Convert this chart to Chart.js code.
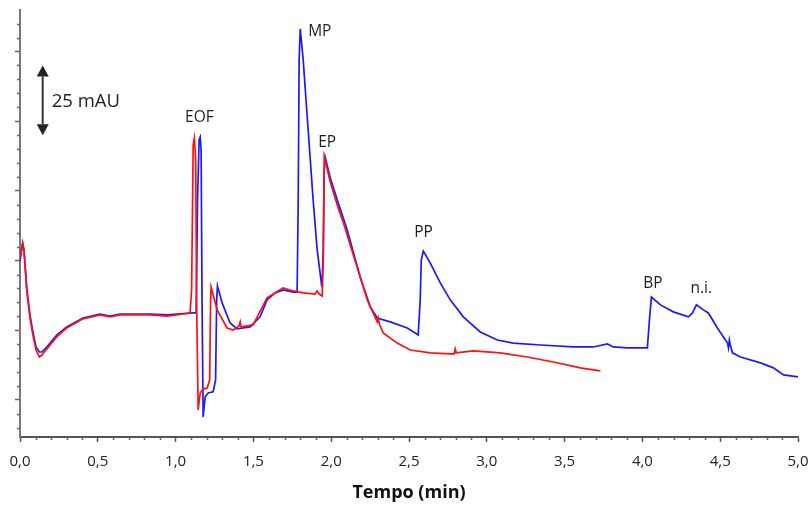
<!DOCTYPE html>
<html lang="pt">
<head>
<meta charset="UTF-8">
<title>Eletroferograma</title>
<script src="https://cdn.jsdelivr.net/npm/chart.js@4.4.1/dist/chart.umd.min.js"></script>
<style>
    body { margin: 0; background: #fff; }
    #wrap { width: 809px; height: 506px; }
</style>
</head>
<body>
<div id="wrap"><canvas id="eletroChart" width="809" height="506"></canvas></div>
<script>
// tempo (min) e absorvância (mAU)
const blueTime = [0.000, 0.017, 0.026, 0.043, 0.064, 0.084, 0.103, 0.124, 0.141, 0.172, 0.236, 0.300, 0.405, 0.514, 0.579, 0.643, 0.836, 0.945, 1.113, 1.132,
    1.141, 1.151, 1.158, 1.164, 1.170, 1.177, 1.190, 1.209, 1.241, 1.257, 1.264, 1.269, 1.299, 1.350, 1.395, 1.479, 1.543, 1.588, 1.640, 1.691,
    1.756, 1.781, 1.788, 1.794, 1.801, 1.820, 1.846, 1.884, 1.910, 1.940, 1.949, 1.955, 1.961, 1.994, 2.045, 2.103, 2.186, 2.251, 2.296, 2.379,
    2.489, 2.559, 2.572, 2.579, 2.592, 2.637, 2.701, 2.765, 2.849, 2.958, 3.068, 3.170, 3.344, 3.556, 3.685, 3.775, 3.814, 3.904, 4.032, 4.045,
    4.058, 4.116, 4.199, 4.296, 4.322, 4.347, 4.392, 4.424, 4.482, 4.547, 4.553, 4.559, 4.566, 4.579, 4.630, 4.759, 4.842, 4.907, 5.000];
const blueAbs = [49.9, 56.3, 53.8, 40.5, 30.5, 24.0, 19.0, 17.2, 17.2, 19.0, 23.3, 26.2, 29.4, 30.8, 30.1, 30.8, 30.8, 30.5, 31.2, 31.2,
    71.7, 93.3, 94.3, 89.7, 35.9, -6.1, 1.1, 2.5, 2.9, 7.2, 35.9, 40.9, 34.8, 27.6, 25.5, 26.2, 29.8, 35.9, 38.4, 39.5,
    38.7, 38.7, 71.7, 122.0, 133.1, 122.0, 101.5, 71.7, 53.8, 40.5, 53.8, 82.5, 87.2, 79.6, 70.7, 61.0, 44.1, 33.4, 29.4, 28.0,
    25.8, 23.3, 35.9, 50.2, 53.4, 49.1, 42.0, 35.9, 29.8, 24.4, 21.5, 20.4, 19.7, 19.0, 19.0, 20.1, 19.0, 18.7, 18.7, 28.7,
    36.9, 34.1, 31.6, 29.8, 31.2, 34.1, 32.3, 31.2, 25.8, 20.4, 18.7, 21.5, 19.4, 16.9, 15.4, 13.3, 11.5, 9.0, 8.3];

const redTime = [0.000, 0.017, 0.026, 0.043, 0.064, 0.084, 0.103, 0.124, 0.141, 0.172, 0.236, 0.300, 0.405, 0.514, 0.579, 0.643, 0.836, 0.945, 1.093, 1.103,
    1.113, 1.121, 1.129, 1.135, 1.145, 1.158, 1.177, 1.203, 1.219, 1.225, 1.228, 1.267, 1.331, 1.370, 1.408, 1.415, 1.421, 1.498, 1.588, 1.691,
    1.756, 1.820, 1.897, 1.910, 1.923, 1.942, 1.949, 1.955, 1.994, 2.045, 2.077, 2.122, 2.167, 2.232, 2.296, 2.302, 2.309, 2.334, 2.424, 2.508,
    2.637, 2.765, 2.791, 2.797, 2.804, 2.913, 3.087, 3.260, 3.428, 3.601, 3.730];
const redAbs = [50.9, 56.0, 53.1, 39.5, 29.4, 23.0, 17.9, 15.4, 16.1, 18.3, 22.6, 25.8, 29.1, 30.5, 29.8, 30.5, 30.5, 30.1, 31.2, 39.5,
    91.5, 94.0, 86.1, 35.9, -3.6, 2.5, 3.9, 4.3, 7.2, 35.9, 40.5, 32.3, 25.8, 25.1, 26.5, 28.0, 26.2, 26.9, 36.6, 40.2,
    39.1, 38.4, 38.0, 39.1, 38.0, 37.3, 50.2, 87.2, 78.2, 68.9, 63.8, 55.6, 47.7, 35.9, 28.0, 29.4, 27.3, 24.0, 20.4, 17.9,
    16.9, 16.5, 16.5, 18.3, 16.9, 17.6, 16.9, 15.4, 13.6, 11.5, 10.4];

const xTicks = [0, 0.5, 1, 1.5, 2, 2.5, 3, 3.5, 4, 4.5, 5];
const yTicks = [0, 25, 50, 75, 100, 125];

// rótulos dos picos
const peakLabels = ['EOF', 'MP', 'EP', 'PP', 'BP', 'n.i.'];
const peakTime = [1.061, 1.852, 1.916, 2.534, 4.006, 4.309];
const peakAbs = [101.2, 132.0, 92.5, 59.9, 41.6, 39.8];

// barra de escala
const scaleBarTime = 0.146;
const scaleBarFrom = 95;
const scaleBarTo = 120;
const scaleBarText = '25 mAU';

const toXY = (t, a) => t.map((v, i) => ({ x: v, y: a[i] }));

const annotate = {
    id: 'annotate',
    afterDraw(chart) {
        const { ctx, scales: { x, y } } = chart;
        ctx.save();

        // ticks menores
        ctx.strokeStyle = '#666';
        ctx.lineWidth = 1.5;
        ctx.beginPath();
        for (let i = 1; i < 50; i++) {
            if (i % 5 === 0) continue;
            const px = Math.round(x.getPixelForValue(i / 10)) + 0.5;
            ctx.moveTo(px, y.bottom);
            ctx.lineTo(px, y.bottom + 3);
        }
        for (let v = -10; v <= 135; v += 5) {
            if (v % 25 === 0) continue;
            const py = Math.round(y.getPixelForValue(v)) + 0.5;
            ctx.moveTo(x.left - 3, py);
            ctx.lineTo(x.left, py);
        }
        ctx.stroke();

        // textos dos picos
        ctx.fillStyle = '#1e1e1e';
        ctx.font = '15.5px "Open Sans"';
        ctx.textBaseline = 'middle';
        ctx.textAlign = 'left';
        peakLabels.forEach((t, i) => {
            ctx.fillText(t, x.getPixelForValue(peakTime[i]), y.getPixelForValue(peakAbs[i]));
        });

        // seta dupla de 25 mAU
        const ax = x.getPixelForValue(scaleBarTime);
        const top = y.getPixelForValue(scaleBarTo);
        const bot = y.getPixelForValue(scaleBarFrom);
        const head = 11, half = 6;
        ctx.strokeStyle = '#333';
        ctx.fillStyle = '#222';
        ctx.lineWidth = 2;
        ctx.beginPath();
        ctx.moveTo(ax, top + head);
        ctx.lineTo(ax, bot - head);
        ctx.stroke();
        ctx.beginPath();
        ctx.moveTo(ax, top);
        ctx.lineTo(ax - half, top + head);
        ctx.lineTo(ax + half, top + head);
        ctx.closePath();
        ctx.fill();
        ctx.beginPath();
        ctx.moveTo(ax, bot);
        ctx.lineTo(ax - half, bot - head);
        ctx.lineTo(ax + half, bot - head);
        ctx.closePath();
        ctx.fill();
        ctx.font = '18.5px "Open Sans"';
        ctx.fillText(scaleBarText, ax + 9, (top + bot) / 2 + 1);

        ctx.restore();
    }
};

const ctx = document.getElementById('eletroChart').getContext('2d');
new Chart(ctx, {
    type: 'scatter',
    data: {
        datasets: [{
            label: 'vermelho',
            data: toXY(redTime, redAbs),
            showLine: true,
            borderColor: '#ff1010',
            borderWidth: 1.7,
            pointRadius: 0,
            tension: 0
        }, {
            label: 'azul',
            data: toXY(blueTime, blueAbs),
            showLine: true,
            borderColor: '#1a1aff',
            borderWidth: 1.7,
            pointRadius: 0,
            tension: 0
        }]
    },
    options: {
        responsive: false,
        animation: false,
        layout: { padding: { top: 10, right: 11, bottom: 0, left: 0 } },
        plugins: {
            legend: { display: false },
            tooltip: { enabled: false }
        },
        scales: {
            x: {
                type: 'linear',
                min: 0,
                max: 5,
                afterBuildTicks: s => { s.ticks = xTicks.map(v => ({ value: v })); },
                afterFit: s => { s.height = 69; s.paddingLeft = 0; s.paddingRight = 0; },
                ticks: {
                    padding: 11,
                    color: '#222',
                    font: { family: '"Open Sans"', size: 15 },
                    callback: v => v.toFixed(1).replace('.', ',')
                },
                grid: {
                    drawOnChartArea: false,
                    tickLength: 5,
                    tickColor: '#555',
                    tickWidth: 1.5
                },
                border: { color: '#555', width: 2 },
                title: {
                    display: true,
                    text: 'Tempo (min)',
                    color: '#111',
                    font: { family: '"Open Sans"', size: 18, weight: 'bold' },
                    padding: { top: 0, bottom: 2 }
                }
            },
            y: {
                min: -13.3,
                max: 139.9,
                afterBuildTicks: s => { s.ticks = yTicks.map(v => ({ value: v })); },
                afterFit: s => { s.width = 20; s.paddingTop = 0; s.paddingBottom = 0; },
                ticks: { display: false },
                grid: {
                    drawOnChartArea: false,
                    tickLength: 5,
                    tickColor: '#666',
                    tickWidth: 1.5
                },
                border: { color: '#777', width: 2 }
            }
        }
    },
    plugins: [annotate]
});
</script>
</body>
</html>
